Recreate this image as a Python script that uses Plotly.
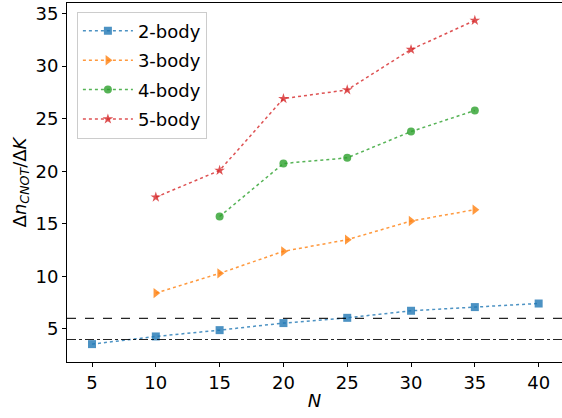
import plotly.graph_objects as go

N = [5, 10, 15, 20, 25, 30, 35, 40]
body2_N = [5, 10, 15, 20, 25, 30, 35, 40]
body2_y = [3.56, 4.29, 4.89, 5.56, 6.06, 6.73, 7.08, 7.42]
body3_N = [10, 15, 20, 25, 30, 35]
body3_y = [8.41, 10.29, 12.38, 13.49, 15.26, 16.34]
body4_N = [15, 20, 25, 30, 35]
body4_y = [15.69, 20.73, 21.27, 23.77, 25.77]
body5_N = [10, 15, 20, 25, 30, 35]
body5_y = [17.53, 20.07, 26.9, 27.73, 31.57, 34.33]
names = ["2-body", "3-body", "4-body", "5-body"]
hline_dashed = 6
hline_dashdot = 4

colors = ["rgba(31,119,180,0.8)", "rgba(255,127,14,0.8)",
          "rgba(44,160,44,0.8)", "rgba(214,39,40,0.8)"]
symbols = ["square", "triangle-right", "circle", "star"]
sizes = [8, 9, 8, 8]

fig = go.Figure()
series = [(body2_N, body2_y), (body3_N, body3_y), (body4_N, body4_y), (body5_N, body5_y)]
for i, (xs, ys) in enumerate(series):
    fig.add_trace(go.Scatter(
        x=xs, y=ys, name=names[i], mode="lines+markers",
        legendgroup=names[i],
        line=dict(color=colors[i], width=1.5, dash="dot"),
        marker=dict(symbol=symbols[i], size=sizes[i], color=colors[i],
                    line=dict(width=0)),
    ))

fig.add_hline(y=hline_dashed, line=dict(color="black", width=1.2, dash="dash"), opacity=0.85)
fig.add_hline(y=hline_dashdot, line=dict(color="black", width=1.2, dash="dashdot"), opacity=0.85)

fig.update_layout(
    width=562, height=418,
    margin=dict(l=67, r=0, t=3, b=56),
    plot_bgcolor="white", paper_bgcolor="white",
    font=dict(family="DejaVu Sans", size=18, color="black"),
    showlegend=True,
    legend=dict(x=0.02, y=0.976, xanchor="left", yanchor="top",
                bordercolor="#cccccc", borderwidth=1, bgcolor="rgba(255,255,255,0.8)",
                font=dict(size=18), itemwidth=50, tracegroupgap=3),
    xaxis=dict(range=[3.04, 41.83], tickvals=N, showgrid=False, zeroline=False,
               showline=True, linecolor="black", linewidth=1, mirror=True,
               ticks="outside", ticklen=4, tickcolor="black",
               title=dict(text="<i>N</i>", standoff=2, font=dict(size=18))),
    yaxis=dict(range=[1.86, 35.99], tickvals=[5, 10, 15, 20, 25, 30, 35],
               showgrid=False, zeroline=False,
               showline=True, linecolor="black", linewidth=1, mirror=True,
               ticks="outside", ticklen=4, tickcolor="black",
               title=dict(text="Δ<i>n</i><sub><i>CNOT</i></sub>/Δ<i>K</i>", standoff=4,
                          font=dict(size=18))),
)

fig.write_html("out.html")
